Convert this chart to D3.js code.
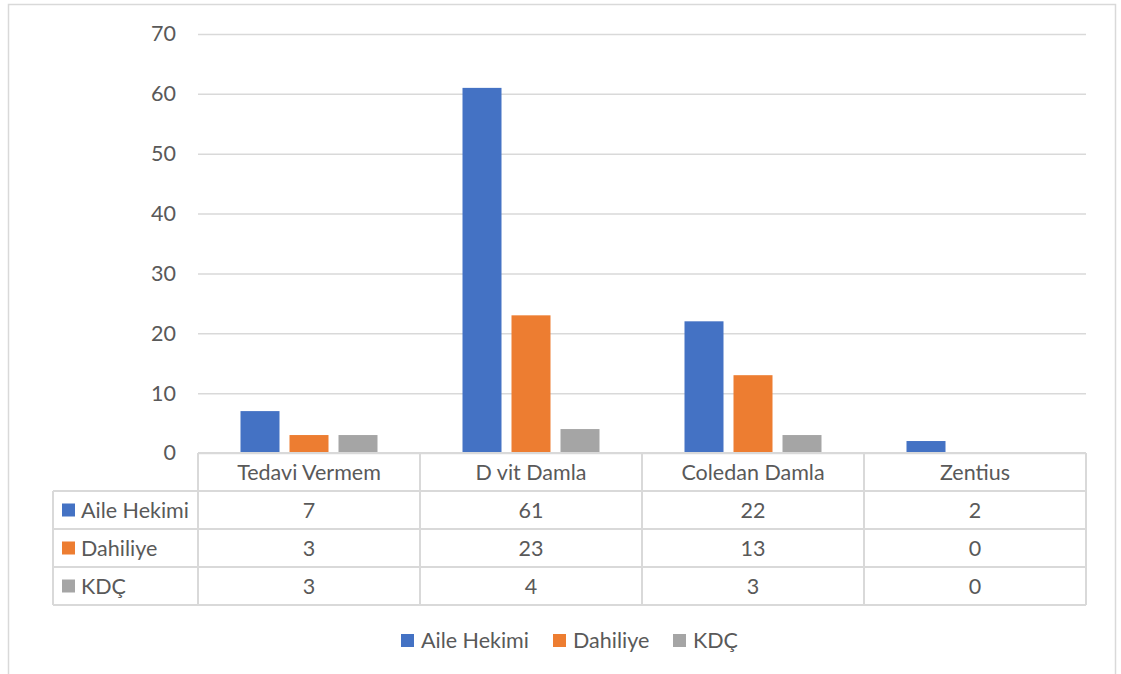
<!DOCTYPE html>
<html>
<head>
<meta charset="utf-8">
<script src="https://cdn.jsdelivr.net/npm/d3@7"></script>
<style>
  body { margin: 0; background: #fff; }
  text { font-family: Lato, "Open Sans", sans-serif; fill: #595959; }
</style>
</head>
<body>
<div id="chart"></div>
<script>
// chart data
const categories = ["Tedavi Vermem", "D vit Damla", "Coledan Damla", "Zentius"]
const seriesNames = ["Aile Hekimi", "Dahiliye", "KDÇ"]
const aileHekimi = [7, 61, 22, 2]
const dahiliye = [3, 23, 13, 0]
const kdc = [3, 4, 3, 0]
const yTicks = [0, 10, 20, 30, 40, 50, 60, 70]

const seriesValues = [aileHekimi, dahiliye, kdc]
const colors = ["#4472C4", "#ED7D31", "#A5A5A5"]

const width = 1121
const height = 674
const fontSize = 21.5
const gridColor = "#D9D9D9"

const plotLeft = 198, plotRight = 1086
const plotTop = 34, plotBottom = 453
const tableLeft = 53
const rowH = 38

let svg = d3.select("#chart")
            .append("svg")
            .attr("width", width)
            .attr("height", height)

// outer frame
svg.append("rect")
   .attr("x", 8.5).attr("y", 4.5)
   .attr("width", 1107).attr("height", 680)
   .attr("fill", "none")
   .attr("stroke", gridColor)
   .attr("stroke-width", 1.5)

let xScale = d3.scaleBand()
               .domain(categories)
               .range([plotLeft, plotRight])

let yScale = d3.scaleLinear()
               .domain([0, 70])
               .range([plotBottom, plotTop])

// inner band for the three series, 39px bars with 10px gaps
let xInner = d3.scaleBand()
               .domain(seriesNames)
               .range([xScale.bandwidth() / 2 - 68.5, xScale.bandwidth() / 2 + 68.5])
               .paddingInner(10 / 49)

// gridlines
let grid = d3.axisLeft(yScale)
             .tickValues(yTicks)
             .tickSize(-(plotRight - plotLeft))
             .tickFormat("")
svg.append("g")
   .attr("transform", `translate(${plotLeft},0)`)
   .call(grid)
   .call(g => g.select(".domain").remove())
   .call(g => g.selectAll("line").attr("stroke", gridColor).attr("stroke-width", 1.5))

// y labels
let yAxis = d3.axisLeft(yScale)
              .tickValues(yTicks)
              .tickSize(0)
              .tickPadding(22)
svg.append("g")
   .attr("transform", `translate(${plotLeft},0)`)
   .call(yAxis)
   .call(g => g.select(".domain").remove())
   .call(g => g.selectAll("text")
               .style("font-size", fontSize + "px")
               .style("font-family", "Lato, sans-serif")
               .attr("fill", "#595959"))

// bars
seriesValues.forEach(function(vals, s) {
  svg.append("g")
     .selectAll("rect")
     .data(vals)
     .enter()
     .append("rect")
     .attr("x", (d, i) => xScale(categories[i]) + xInner(seriesNames[s]))
     .attr("y", d => yScale(d))
     .attr("width", xInner.bandwidth())
     .attr("height", d => yScale(0) - yScale(d))
     .attr("fill", colors[s])
})

// data table
let table = svg.append("g")
let lineStyle = sel => sel.attr("stroke", gridColor).attr("stroke-width", 2).attr("fill", "none")

// horizontal lines
table.append("line").attr("x1", plotLeft).attr("x2", plotRight)
     .attr("y1", plotBottom).attr("y2", plotBottom).call(lineStyle)
for (let r = 1; r <= seriesNames.length + 1; r++) {
  table.append("line").attr("x1", tableLeft).attr("x2", plotRight)
       .attr("y1", plotBottom + r * rowH).attr("y2", plotBottom + r * rowH).call(lineStyle)
}
// vertical lines
table.append("line").attr("x1", tableLeft).attr("x2", tableLeft)
     .attr("y1", plotBottom + rowH).attr("y2", plotBottom + 4 * rowH).call(lineStyle)
categories.concat(["end"]).forEach(function(c, i) {
  let x = i < categories.length ? xScale(c) : plotRight
  table.append("line").attr("x1", x).attr("x2", x)
       .attr("y1", plotBottom).attr("y2", plotBottom + 4 * rowH).call(lineStyle)
})

// header
table.selectAll(".cat")
     .data(categories)
     .enter()
     .append("text")
     .attr("x", d => xScale(d) + xScale.bandwidth() / 2)
     .attr("y", plotBottom + rowH / 2)
     .attr("dy", "0.35em")
     .attr("text-anchor", "middle")
     .style("font-size", fontSize + "px")
     .text(d => d)

// rows
seriesNames.forEach(function(name, s) {
  let cy = plotBottom + (s + 1) * rowH + rowH / 2
  table.append("rect")
       .attr("x", 62).attr("y", cy - 6.5)
       .attr("width", 13).attr("height", 13)
       .attr("fill", colors[s])
  table.append("text")
       .attr("x", 81).attr("y", cy).attr("dy", "0.35em")
       .style("font-size", fontSize + "px")
       .text(name)
  table.selectAll(".v" + s)
       .data(seriesValues[s])
       .enter()
       .append("text")
       .attr("x", (d, i) => xScale(categories[i]) + xScale.bandwidth() / 2)
       .attr("y", cy).attr("dy", "0.35em")
       .attr("text-anchor", "middle")
       .style("font-size", fontSize + "px")
       .text(d => d)
})

// legend
let legendX = [401, 553, 673]
let legend = svg.append("g")
seriesNames.forEach(function(name, s) {
  legend.append("rect")
        .attr("x", legendX[s]).attr("y", 634)
        .attr("width", 13).attr("height", 13)
        .attr("fill", colors[s])
  legend.append("text")
        .attr("x", legendX[s] + 20).attr("y", 640.5).attr("dy", "0.35em")
        .style("font-size", fontSize + "px")
        .text(name)
})
</script>
</body>
</html>
